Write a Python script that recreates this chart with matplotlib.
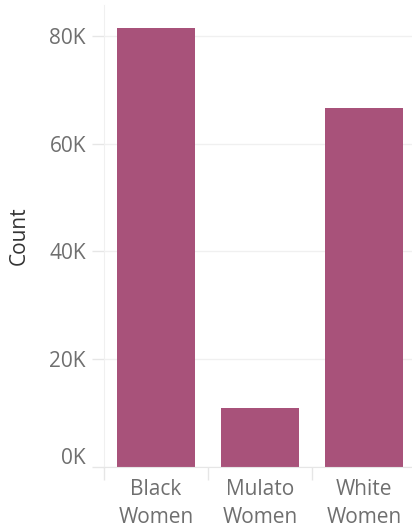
import numpy as np
import matplotlib.pyplot as plt
from matplotlib.ticker import FuncFormatter
from matplotlib.transforms import ScaledTranslation

# Datos
categorias = ["Black\nWomen", "Mulato\nWomen", "White\nWomen"]
conteos = [81400, 10800, 66500]

color_barra = "#a8527a"
gris_texto = "#6f6f6f"
gris_linea = "#e6e6e6"

plt.rcParams['font.family'] = ['Open Sans', 'DejaVu Sans']

fig = plt.figure(figsize=(4.12, 5.31), dpi=100)
ax = fig.add_axes([104 / 412, (531 - 466.6) / 531, 308 / 412, (466.6 - 5) / 531])

x = np.arange(len(categorias))
ax.bar(x, conteos, width=0.75, color=color_barra, zorder=2)

ax.set_xlim(-0.5, 2.5 - 4 / 104)
ax.set_ylim(0, (466.6 - 5) / 107.7 * 20000)

ax.set_yticks([0, 20000, 40000, 60000, 80000])
ax.yaxis.set_major_formatter(FuncFormatter(lambda v, p: f"{int(v / 1000)}K"))
ax.grid(axis='y', color="#f0f0f0", linewidth=1, zorder=0)

ax.set_xticks(x)
ax.set_xticklabels(categorias, linespacing=1.45)
ax.set_xticks([-0.5, 0.5, 1.5], minor=True)
ax.tick_params(axis='x', which='major', length=0, pad=9, labelsize=15, labelcolor=gris_texto)
ax.tick_params(axis='x', which='minor', length=9, color=gris_linea, width=1)
ax.tick_params(axis='y', length=9, color=gris_linea, width=1, pad=4, labelsize=15, labelcolor=gris_texto)

# la etiqueta 0K queda un poco por encima de la linea base
etiqueta_cero = ax.get_yticklabels()[0]
etiqueta_cero.set_transform(etiqueta_cero.get_transform() + ScaledTranslation(0, 11 / 100, fig.dpi_scale_trans))

for lado in ['top', 'right']:
    ax.spines[lado].set_visible(False)
ax.spines['left'].set_color("#f0f0f0")
ax.spines['bottom'].set_color(gris_linea)

ax.set_ylabel("Count", fontsize=15, color="#333333", labelpad=14)

fig.savefig("out.png", dpi=100)
